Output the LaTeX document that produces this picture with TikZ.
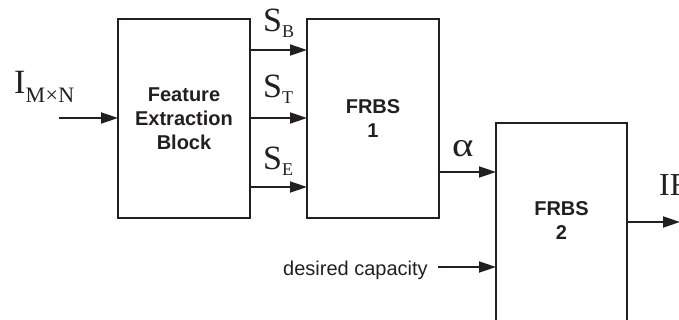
\documentclass[tikz,border=0pt]{standalone}
\usepackage{fontspec}
\setmainfont{Liberation Serif}
\newfontfamily\sansf{Liberation Sans}
\usetikzlibrary{arrows.meta}
\definecolor{ink}{HTML}{231F20}
\newcommand{\fsz}[1]{\fontsize{#1}{#1}\selectfont}
\newcommand{\blkfont}{\sansf\bfseries\fontsize{20}{24}\selectfont}
\tikzset{
  blk/.style={draw=ink, line width=1.8pt, inner sep=0pt, outer sep=0pt, anchor=north west},
  blktext/.style={text=ink, align=center, font=\blkfont},
  arr/.style={draw=ink, line width=1.8pt, -{Triangle[length=17pt,width=11pt]}},
  lbl/.style={text=ink, inner sep=0pt, anchor=base west},
}
\begin{document}
\begin{tikzpicture}[x=1pt,y=-1pt]
\useasboundingbox (0,0) rectangle (679,320);
% blocks
\node[blk, minimum width=132pt, minimum height=199pt] (feb) at (118,19) {};
\node[blktext] (febt) at (feb.center) {Feature\\Extraction\\Block};
\node[blk, minimum width=132pt, minimum height=199pt] (f1) at (307,19) {};
\node[blktext] (f1t) at (f1.center) {FRBS\\1};
\node[blk, minimum width=131pt, minimum height=210pt] (f2) at (496,123) {};
\node[blktext] (f2t) at (561.5,221) {FRBS\\2};
% helper coordinates
\coordinate (in) at (59,118);
\coordinate (yB) at (0,50);
\coordinate (yT) at (0,118);
\coordinate (yE) at (0,187);
\coordinate (ya) at (0,172);
\coordinate (dcs) at (438,267);
\coordinate (out) at (680,222);
% connectors
\draw[arr] (in) -- (feb.west |- in);
\draw[arr] (feb.east |- yB) -- (f1.west |- yB);
\draw[arr] (feb.east |- yT) -- (f1.west |- yT);
\draw[arr] (feb.east |- yE) -- (f1.west |- yE);
\draw[arr] (f1.east |- ya) -- (f2.west |- ya);
\draw[arr] (dcs) -- (f2.west |- dcs);
\draw[arr] (f2.east |- out) -- (out);
% labels
\node[lbl] (lI) at (14,94) {\fsz{34}I\raisebox{-9pt}{\fsz{22}M\kern0.5pt×\kern0.5ptN}};
\node[lbl] (lB) at (263,32) {\fsz{34}S\raisebox{-6pt}{\fsz{18}B}};
\node[lbl] (lT) at (263,98) {\fsz{34}S\raisebox{-6pt}{\fsz{18}T}};
\node[lbl] (lE) at (263,170) {\fsz{34}S\raisebox{-6pt}{\fsz{18}E}};
\node[lbl] (la) at (452,157) {\fsz{34}\scalebox{1.2}[1]{α}};
\node[lbl] (lIF) at (659,196) {\fsz{32}IF};
\node[lbl] (dc) at (283,275) {\sansf\fsz{20}desired capacity};
\end{tikzpicture}
\end{document}
